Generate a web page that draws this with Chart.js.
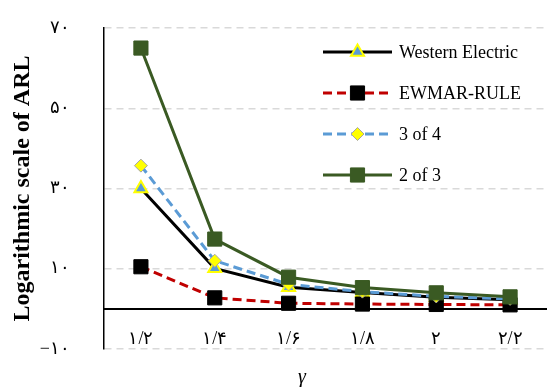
<!DOCTYPE html>
<html><head><meta charset="utf-8">
<script src="https://cdn.jsdelivr.net/npm/chart.js@4/dist/chart.umd.min.js"></script>
<style>html,body{margin:0;padding:0;background:#fff;} #wrap{width:547px;height:387px;position:relative;}</style>
</head><body><div id="wrap"><canvas id="c" width="547" height="387"></canvas></div>
<script>
const categories = ['۱/۲','۱/۴','۱/۶','۱/۸','۲','۲/۲'];
const seriesNames = ['Western Electric','EWMAR-RULE','3 of 4','2 of 3'];
const westernElectric = [30.0, 10.1, 5.4, 4.1, 2.9, 2.3];
const ewmarRule = [10.5, 2.75, 1.4, 1.2, 1.1, 1.0];
const threeOfFour = [35.7, 12.0, 6.1, 4.3, 3.1, 2.5];
const twoOfThree = [65.0, 17.4, 7.9, 5.3, 4.0, 3.0];
const yTickValues = [-10, 10, 30, 50, 70];
const yTickLabels = ['−۱۰','۱۰','۳۰','۵۰','۷۰'];
const yTitle = 'Logarithmic scale of ARL';
const xTitle = 'γ';

const serif = "'Liberation Serif','Times New Roman','DejaVu Serif',serif";
const GREEN = '#3a5a23';

const datasets = [
  {label: seriesNames[0], data: westernElectric, borderColor:'#000000', borderWidth:3,
   pointStyle:'triangle', pointRadius:7.5, pointBackgroundColor:'#5b9bd5', pointBorderColor:'#ffff00', pointBorderWidth:2, order:4},
  {label: seriesNames[1], data: ewmarRule, borderColor:'#c00000', borderDash:[9,5], borderWidth:3,
   pointStyle:'rect', pointRadius:10, pointBackgroundColor:'#000000', pointBorderColor:'#000000', pointBorderWidth:1, order:3},
  {label: seriesNames[2], data: threeOfFour, borderColor:'#5b9bd5', borderDash:[9,5], borderWidth:3,
   pointStyle:'rectRot', pointRadius:6.5, pointBackgroundColor:'#ffff00', pointBorderColor:'#a5a5a5', pointBorderWidth:1, order:2},
  {label: seriesNames[3], data: twoOfThree, borderColor:GREEN, borderWidth:3,
   pointStyle:'rect', pointRadius:10, pointBackgroundColor:GREEN, pointBorderColor:GREEN, pointBorderWidth:1, order:1}
];

function markPoint(ctx, ds, x, y){
  ctx.save();
  ctx.setLineDash([]);
  ctx.fillStyle = ds.pointBackgroundColor;
  ctx.strokeStyle = ds.pointBorderColor;
  ctx.lineWidth = ds.pointBorderWidth;
  if (Chart.helpers && Chart.helpers.drawPoint) {
    Chart.helpers.drawPoint(ctx, {pointStyle: ds.pointStyle, radius: ds.pointRadius, rotation: 0, borderWidth: ds.pointBorderWidth}, x, y);
  }
  ctx.restore();
}

const insideLegend = {
  id: 'insideLegend',
  afterDraw(chart, args, opts) {
    const ctx = chart.ctx, a = chart.chartArea;
    chart.data.datasets.forEach((ds, i) => {
      const y = a.top + opts.top + i * opts.gap;
      const x0 = a.left + opts.lineStart, x1 = a.left + opts.lineEnd;
      ctx.save();
      ctx.strokeStyle = ds.borderColor;
      ctx.lineWidth = ds.borderWidth;
      ctx.setLineDash(ds.borderDash || []);
      ctx.beginPath(); ctx.moveTo(x0, y); ctx.lineTo(x1, y); ctx.stroke();
      ctx.restore();
      markPoint(ctx, ds, (x0 + x1) / 2, y);
      ctx.save();
      ctx.fillStyle = '#000';
      ctx.font = '18px ' + serif;
      ctx.textBaseline = 'middle';
      ctx.textAlign = 'left';
      ctx.fillText(ds.label, a.left + opts.textStart, y + 1);
      ctx.restore();
    });
  }
};

const axisTitleX = {
  id: 'axisTitleX',
  afterDraw(chart, args, opts) {
    const ctx = chart.ctx, a = chart.chartArea;
    ctx.save();
    ctx.fillStyle = '#000';
    ctx.font = 'italic 20px ' + serif;
    ctx.textAlign = 'center';
    ctx.textBaseline = 'middle';
    ctx.fillText(opts.text, a.left + opts.dx, a.bottom + opts.dy);
    ctx.restore();
  }
};

new Chart(document.getElementById('c'), {
  type: 'line',
  data: { labels: categories, datasets: datasets },
  plugins: [insideLegend, axisTitleX],
  options: {
    responsive: false,
    devicePixelRatio: 1,
    animation: false,
    events: [],
    layout: { autoPadding: false, padding: { top: 28, bottom: 38, left: 0, right: 0 } },
    elements: { line: { tension: 0 } },
    plugins: {
      legend: { display: false },
      tooltip: { enabled: false },
      insideLegend: { top: 24, gap: 41, lineStart: 219, lineEnd: 288, textStart: 295 },
      axisTitleX: { text: xTitle, dx: 198, dy: 29 }
    },
    scales: {
      x: {
        type: 'category',
        position: { y: 0 },
        offset: true,
        afterFit: s => { s.paddingLeft = 0; s.paddingRight = 0; s.paddingTop = 0; s.paddingBottom = 0; },
        grid: { display: true, color: 'rgba(0,0,0,0)', drawOnChartArea: false, drawTicks: true, tickLength: 20, tickColor: 'rgba(0,0,0,0)' },
        border: { display: true, color: '#000000', width: 2 },
        ticks: { padding: 0, color: '#000', font: { family: serif, size: 18 }, maxRotation: 0, autoSkip: false }
      },
      y: {
        min: -10, max: 70,
        afterBuildTicks: s => { s.ticks = yTickValues.map(v => ({ value: v })); },
        afterFit: s => { s.width = 104; s.paddingTop = 0; s.paddingBottom = 0; s.paddingLeft = 0; s.paddingRight = 0; },
        grid: { color: '#d9d9d9', lineWidth: 1.5, drawTicks: false },
        border: { display: true, color: '#000000', width: 1.5, dash: [7, 5] },
        ticks: { padding: 34, color: '#000', font: { family: serif, size: 18 },
                 callback: v => yTickLabels[yTickValues.indexOf(v)] },
        title: { display: true, text: yTitle, color: '#000', font: { family: serif, size: 24, weight: 'bold' }, padding: { top: 8, bottom: 0 } }
      }
    }
  }
});
</script>
</body></html>
